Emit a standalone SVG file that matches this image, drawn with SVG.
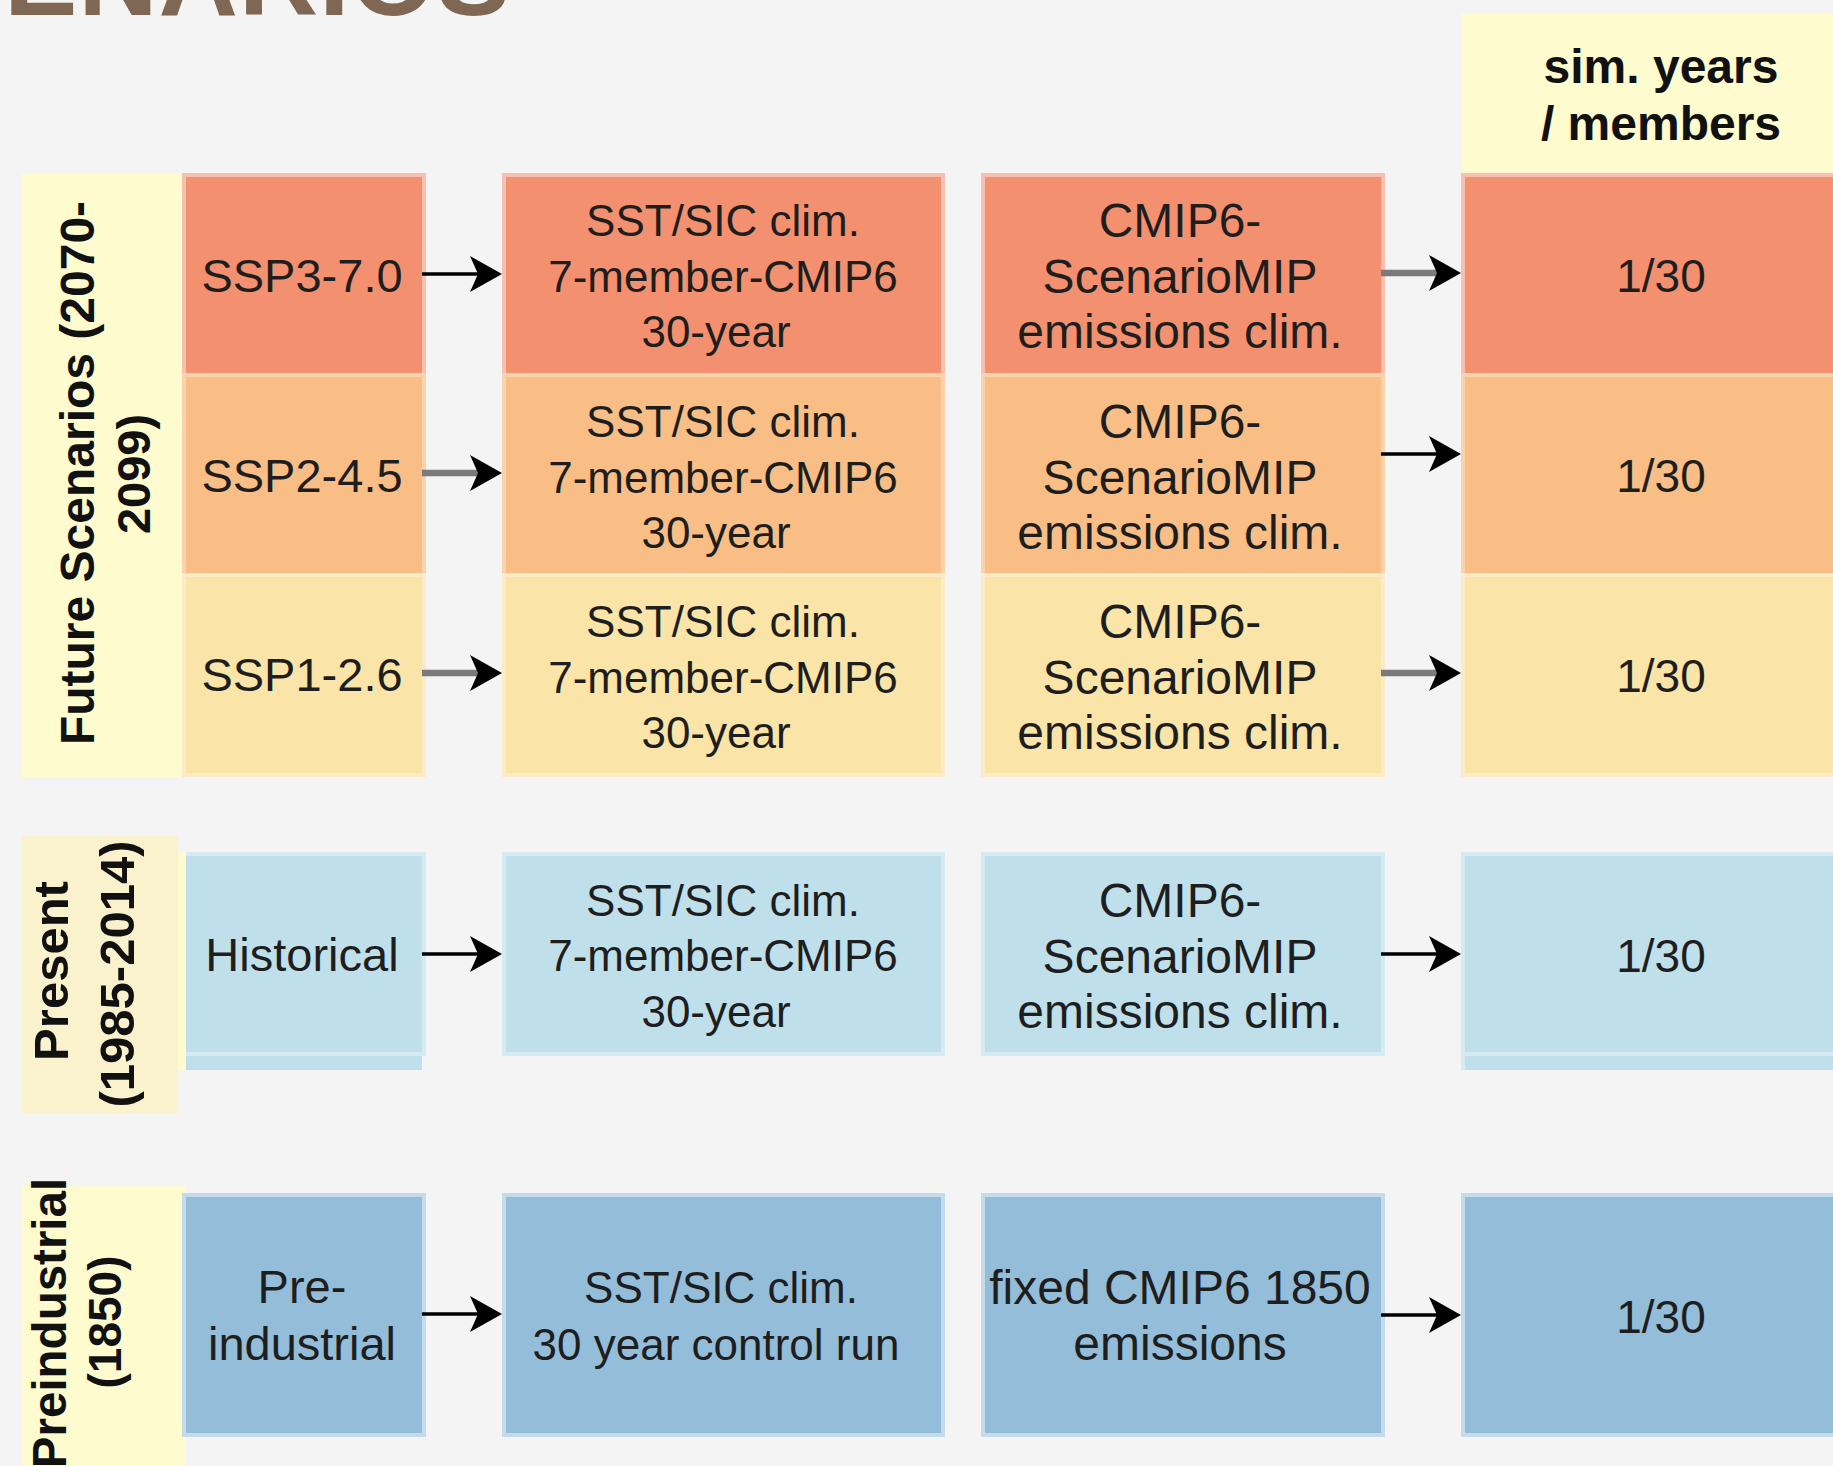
<svg xmlns="http://www.w3.org/2000/svg" width="1833" height="1466" viewBox="0 0 1833 1466">
  <defs>
    <style>
      .t { font-family: "Liberation Sans", Arial, sans-serif; fill: #1e1e1e; text-anchor: middle; }
      .c1 { font-size: 47px; }
      .c2 { font-size: 44px; }
      .c3 { font-size: 48px; }
      .c4 { font-size: 46px; }
      .lab { font-family: "Liberation Sans", Arial, sans-serif; font-weight: bold; fill: #111111; text-anchor: middle; }
      .title { font-family: "Liberation Sans", Arial, sans-serif; font-weight: bold; fill: #7f6753; font-size: 110px; }
      .ssp3 { fill: #f3906f; stroke: #f6c1b0; stroke-width: 4; }
      .ssp2 { fill: #f9be86; stroke: #f9d3ae; stroke-width: 4; }
      .ssp1 { fill: #fae4a7; stroke: #fbebc7; stroke-width: 4; }
      .hist { fill: #bfe0eb; stroke: #d5eaf1; stroke-width: 4; }
      .pre  { fill: #93bdd9; stroke: #c3dbea; stroke-width: 4; }
      .yel  { fill: #fefcce; }
      .beige { fill: #faf1cd; }
      .edge { fill: none; stroke: #000000; stroke-width: 3.5; marker-end: url(#head); }
      .edge.soft { stroke: #7a7a7a; stroke-width: 6.5; }
    </style>
    <marker id="head" viewBox="0 0 32 36" refX="8" refY="18" markerWidth="32" markerHeight="36" markerUnits="userSpaceOnUse" orient="auto">
      <path d="M0,0 L32,18 L0,36 L8,18 Z" fill="#000000"/>
    </marker>
  </defs>

  <rect x="0" y="0" width="1833" height="1466" fill="#f4f4f4"/>

  <!-- heading, clipped at the top edge -->
  <text class="title" x="4" y="15" textLength="506" lengthAdjust="spacing">ENARIOS</text>

  <!-- column header -->
  <g id="header-members">
    <rect class="yel" x="1461" y="13" width="380" height="164"/>
    <text class="lab" x="1661" y="83" font-size="48">sim. years</text>
    <text class="lab" x="1661" y="140" font-size="48">/ members</text>
  </g>

  <!-- period label: future -->
  <g id="label-future">
    <rect class="yel" x="22" y="173" width="164" height="604"/>
    <text class="lab" font-size="48" transform="translate(94,473) rotate(-90)">Future Scenarios (2070-</text>
    <text class="lab" font-size="47" transform="translate(150,474) rotate(-90)">2099)</text>
  </g>

  <!-- SSP3-7.0 row -->
  <g id="ssp370">
    <rect class="ssp3" x="184" y="175" width="240" height="200"/>
    <text class="t c1" x="302" y="292">SSP3-7.0</text>
  </g>
  <g id="ssp370-sst">
    <rect class="ssp3" x="504" y="175" width="439" height="200"/>
    <text class="t c2" x="723" y="236">SST/SIC clim.</text>
    <text class="t c2" x="723" y="292">7-member-CMIP6</text>
    <text class="t c2" x="716" y="347">30-year</text>
  </g>
  <g id="ssp370-emis">
    <rect class="ssp3" x="983" y="175" width="400" height="200"/>
    <text class="t c3" x="1180" y="237">CMIP6-</text>
    <text class="t c3" x="1180" y="293">ScenarioMIP</text>
    <text class="t c3" x="1180" y="348">emissions clim.</text>
  </g>
  <g id="ssp370-years">
    <rect class="ssp3" x="1463" y="175" width="400" height="200"/>
    <text class="t c4" x="1661" y="292">1/30</text>
  </g>

  <!-- SSP2-4.5 row -->
  <g id="ssp245">
    <rect class="ssp2" x="184" y="375" width="240" height="200"/>
    <text class="t c1" x="302" y="492">SSP2-4.5</text>
  </g>
  <g id="ssp245-sst">
    <rect class="ssp2" x="504" y="375" width="439" height="200"/>
    <text class="t c2" x="723" y="437">SST/SIC clim.</text>
    <text class="t c2" x="723" y="493">7-member-CMIP6</text>
    <text class="t c2" x="716" y="548">30-year</text>
  </g>
  <g id="ssp245-emis">
    <rect class="ssp2" x="983" y="375" width="400" height="200"/>
    <text class="t c3" x="1180" y="438">CMIP6-</text>
    <text class="t c3" x="1180" y="494">ScenarioMIP</text>
    <text class="t c3" x="1180" y="549">emissions clim.</text>
  </g>
  <g id="ssp245-years">
    <rect class="ssp2" x="1463" y="375" width="400" height="200"/>
    <text class="t c4" x="1661" y="492">1/30</text>
  </g>

  <!-- SSP1-2.6 row -->
  <g id="ssp126">
    <rect class="ssp1" x="184" y="575" width="240" height="200"/>
    <text class="t c1" x="302" y="691">SSP1-2.6</text>
  </g>
  <g id="ssp126-sst">
    <rect class="ssp1" x="504" y="575" width="439" height="200"/>
    <text class="t c2" x="723" y="637">SST/SIC clim.</text>
    <text class="t c2" x="723" y="693">7-member-CMIP6</text>
    <text class="t c2" x="716" y="748">30-year</text>
  </g>
  <g id="ssp126-emis">
    <rect class="ssp1" x="983" y="575" width="400" height="200"/>
    <text class="t c3" x="1180" y="638">CMIP6-</text>
    <text class="t c3" x="1180" y="694">ScenarioMIP</text>
    <text class="t c3" x="1180" y="749">emissions clim.</text>
  </g>
  <g id="ssp126-years">
    <rect class="ssp1" x="1463" y="575" width="400" height="200"/>
    <text class="t c4" x="1661" y="692">1/30</text>
  </g>

  <!-- historical row -->
  <g id="historical">
    <rect x="186" y="1054" width="236" height="16" fill="#bfe0eb"/>
    <rect class="hist" x="184" y="854" width="240" height="200"/>
    <text class="t c1" x="302" y="971">Historical</text>
  </g>
  <g id="historical-sst">
    <rect class="hist" x="504" y="854" width="439" height="200"/>
    <text class="t c2" x="723" y="916">SST/SIC clim.</text>
    <text class="t c2" x="723" y="971">7-member-CMIP6</text>
    <text class="t c2" x="716" y="1027">30-year</text>
  </g>
  <g id="historical-emis">
    <rect class="hist" x="983" y="854" width="400" height="200"/>
    <text class="t c3" x="1180" y="917">CMIP6-</text>
    <text class="t c3" x="1180" y="973">ScenarioMIP</text>
    <text class="t c3" x="1180" y="1028">emissions clim.</text>
  </g>
  <g id="historical-years">
    <rect x="1461" y="1056" width="380" height="14" fill="#d5eaf1"/>
    <rect x="1465" y="1056" width="376" height="14" fill="#bfe0eb"/>
    <rect class="hist" x="1463" y="854" width="400" height="200"/>
    <text class="t c4" x="1661" y="972">1/30</text>
  </g>

  <!-- period label: present (drawn over the historical box edge) -->
  <g id="label-present">
    <rect class="yel" x="22" y="852" width="164" height="218"/>
    <rect class="beige" x="22" y="836" width="156" height="277"/>
    <text class="lab" font-size="49" transform="translate(68,971) rotate(-90)">Present</text>
    <text class="lab" font-size="49" transform="translate(134,974) rotate(-90)">(1985-2014)</text>
  </g>

  <!-- period label: preindustrial -->
  <g id="label-preindustrial">
    <rect class="yel" x="22" y="1186" width="164" height="290"/>
    <text class="lab" font-size="47.5" transform="translate(66,1323) rotate(-90)">Preindustrial</text>
    <text class="lab" font-size="46" transform="translate(121,1322) rotate(-90)">(1850)</text>
  </g>

  <!-- preindustrial row -->
  <g id="preindustrial">
    <rect class="pre" x="184" y="1195" width="240" height="240"/>
    <text class="t c1" x="302" y="1303">Pre-</text>
    <text class="t c1" x="302" y="1360">industrial</text>
  </g>
  <g id="preindustrial-sst">
    <rect class="pre" x="504" y="1195" width="439" height="240"/>
    <text class="t c2" x="721" y="1303">SST/SIC clim.</text>
    <text class="t c2" x="716" y="1360">30 year control run</text>
  </g>
  <g id="preindustrial-emis">
    <rect class="pre" x="983" y="1195" width="400" height="240"/>
    <text class="t c3" x="1180" y="1304">fixed CMIP6 1850</text>
    <text class="t c3" x="1180" y="1360">emissions</text>
  </g>
  <g id="preindustrial-years">
    <rect class="pre" x="1463" y="1195" width="400" height="240"/>
    <text class="t c4" x="1661" y="1333">1/30</text>
  </g>

  <!-- connectors -->
  <g id="connectors">
    <path class="edge" d="M422,274 H478"/>
    <path class="edge soft" d="M422,473 H478"/>
    <path class="edge soft" d="M422,673 H478"/>
    <path class="edge" d="M422,954 H478"/>
    <path class="edge" d="M422,1314 H478"/>
    <path class="edge soft" d="M1381,273 H1437"/>
    <path class="edge" d="M1381,454 H1437"/>
    <path class="edge soft" d="M1381,673 H1437"/>
    <path class="edge" d="M1381,954 H1437"/>
    <path class="edge" d="M1381,1315 H1437"/>
  </g>
</svg>
